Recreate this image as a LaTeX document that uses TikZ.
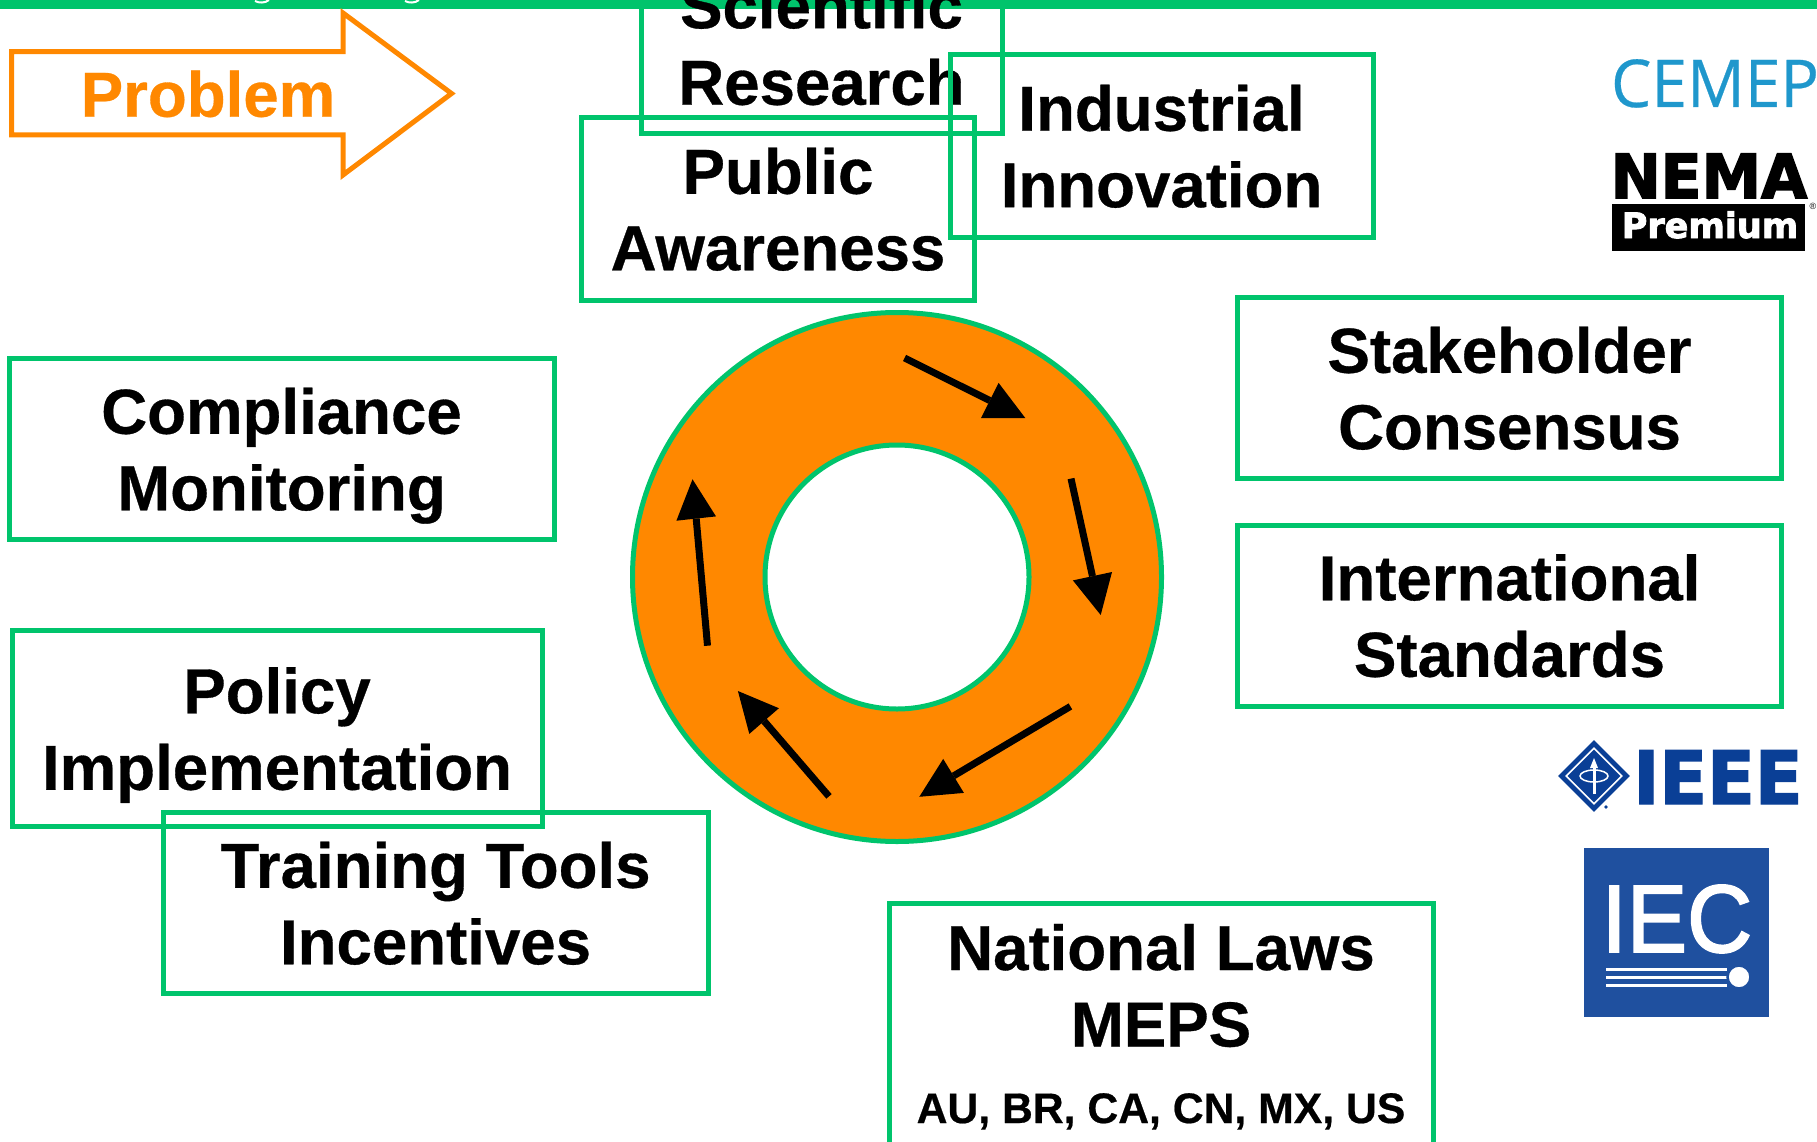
\documentclass[tikz,border=0pt]{standalone}
\usepackage{fontspec}
\usetikzlibrary{calc,shapes.geometric}
\setmainfont{Liberation Sans}[BoldFeatures={FakeBold=0.5}]
\newfontfamily\cemepfont[FakeBold=0.4]{Open Sans}
\newfontfamily\heavyfont[FakeBold=2.5]{DejaVu Sans Bold}
\newfontfamily\ieeefont[FakeBold=2]{DejaVu Sans Bold}
\newfontfamily\iecfont[FakeBold=2]{Liberation Sans}
\definecolor{boxgreen}{HTML}{00C46C}
\definecolor{probOrange}{HTML}{FF8800}
\definecolor{ieeeblue}{HTML}{0A3F96}
\definecolor{iecblue}{HTML}{1F509F}
\definecolor{cemepblue}{HTML}{1F97CC}
\newcommand{\firststrut}{\rule{0pt}{64pt}}
\newcommand{\laststrut}{\rule[-18pt]{0pt}{18pt}}
\newcommand{\cyclearrow}[5]{%
  \coordinate (#1s) at #2; \coordinate (#1t) at #3;
  \coordinate (#1a) at #4; \coordinate (#1b) at #5;
  \draw[shaft] (#1s) -- ($(#1a)!.5!(#1b)$);
  \fill[black] (#1t) -- (#1a) -- (#1b) -- cycle;}
\tikzset{
  stagebox/.style={draw=boxgreen,line width=5pt,align=center,inner sep=0pt,
    font=\fontsize{63.6}{76.5}\selectfont\bfseries,text=black},
  shaft/.style={draw=black,line width=7pt},
}
\begin{document}
\begin{tikzpicture}[x=1pt,y=-1pt]
\useasboundingbox (0,0) rectangle (1817,1142);
\clip (0,0) rectangle (1817,1142);
% top bar
\fill[boxgreen] (0,-2) rectangle (1817,8.8);
\draw[white,line width=2pt] (255,1) .. controls (259,3.2) and (265,3.2) .. (269,0);
\draw[white,line width=2pt] (405,1) .. controls (409,3.2) and (415,3.2) .. (419,0);
% problem arrow
\draw[probOrange,line width=5pt,miter limit=10,line join=miter]
  (11.5,51.7) -- (343,51.7) -- (343,13) -- (451.5,93.5) -- (343,175)
  -- (343,135) -- (11.5,135) -- cycle;
\node[text=probOrange,font=\fontsize{63.6}{70}\selectfont\bfseries,anchor=base] (problem) at (208,116.7) {Problem};
% boxes
\node[stagebox,minimum width=361pt,minimum height=181pt] (research) at (821.5,43.5)
  {\firststrut Scientific\\Research\laststrut};
\node[stagebox,minimum width=393pt,minimum height=182pt] (awareness) at (778,209)
  {\firststrut Public\\Awareness\laststrut};
\node[stagebox,minimum width=423pt,minimum height=182pt] (innovation) at (1161.5,146)
  {\firststrut Industrial\\Innovation\laststrut};
\node[stagebox,minimum width=544pt,minimum height=181pt] (consensus) at (1509.5,388)
  {\firststrut Stakeholder\\Consensus\laststrut};
\node[stagebox,minimum width=544pt,minimum height=181pt] (standards) at (1509.5,615.5)
  {\firststrut International\\Standards\laststrut};
\node[stagebox,minimum width=545pt,minimum height=181pt] (compliance) at (281.5,449)
  {\firststrut Compliance\\Monitoring\laststrut};
\node[stagebox,minimum width=530pt,minimum height=196.5pt] (policy) at (277,728.5)
  {\firststrut Policy\\Implementation\laststrut};
\node[stagebox,minimum width=545pt,minimum height=181pt] (training) at (435.5,903)
  {\firststrut Training Tools\\Incentives\laststrut};
\node[stagebox,minimum width=544pt,minimum height=241pt] (laws) at (1161,1023.5)
  {\firststrut National Laws\\MEPS\\{\fontsize{42.7}{76.5}\selectfont AU, BR, CA, CN, MX, US}\laststrut};
% ring
\node[circle,draw=boxgreen,fill=probOrange,line width=5pt,inner sep=0pt,minimum size=529pt] (ring) at (897,577) {};
\node[circle,draw=boxgreen,fill=white,line width=5pt,inner sep=0pt,minimum size=264pt] (hole) at (ring.center) {};
\cyclearrow{p}{(904.6,358)}{(1025.4,418.2)}{(998.6,382.9)}{(981,418.2)}
\cyclearrow{q}{(1071,478.6)}{(1100.7,615)}{(1072.9,580.4)}{(1112,572)}
\cyclearrow{r}{(1070.4,706.4)}{(919.3,796.8)}{(943.2,758.9)}{(963.9,792.9)}
\cyclearrow{u}{(829,796.4)}{(737.9,691)}{(778.9,708.2)}{(749.3,733.9)}
\cyclearrow{v}{(707.5,645.7)}{(692.5,479.3)}{(716,516.4)}{(676.4,520.7)}
% CEMEP
\node[text=cemepblue,font=\fontsize{66}{70}\cemepfont,anchor=base,xscale=.97] (cemep) at (1715,107) {CEMEP};
% NEMA
\node[font=\fontsize{61}{70}\heavyfont,anchor=base,inner sep=0pt,xscale=.98] (nema) at (1709,198) {NEMA};
\node[fill=black,minimum width=193pt,minimum height=46.7pt,inner sep=0pt] (premiumbar) at (1708.5,227.4) {};
\node[text=white,font=\fontsize{35}{40}\heavyfont,anchor=base,inner sep=0pt] (premium) at (1710,238) {Premium};
\node[font=\fontsize{9}{10}\selectfont,inner sep=0pt] (reg) at (1813,206.5) {®};
% IEEE
\node[diamond,fill=ieeeblue,minimum size=72pt,inner sep=0pt,aspect=1] (ieeemark) at (1594,776) {};
\node[diamond,draw=white,line width=1.6pt,minimum size=56pt,inner sep=0pt,aspect=1] (ieeering) at (ieeemark.center) {};
\draw[white,line width=1.5pt] (ieeemark.center) ellipse (14pt and 6pt);
\draw[white,line width=3pt] (1594,794) -- (1594,766);
\fill[white] (1594,758) -- (1598,768) -- (1590,768) -- cycle;
\fill[ieeeblue] (1606,807) circle (1.8pt);
\node[text=ieeeblue,font=\fontsize{73.5}{80}\ieeefont,anchor=base,inner sep=0pt,xscale=.95] (ieee) at (1718,804) {IEEE};
% IEC
\node[fill=iecblue,minimum width=185pt,minimum height=169pt,inner sep=0pt] (iecbox) at (1676.5,932.5) {};
\node[text=white,font=\fontsize{96}{100}\iecfont,anchor=base,inner sep=0pt,xscale=.94] (iec) at (1677,952) {IEC};
\foreach \yy in {969.3,977,985} \draw[white,line width=3pt] (1606,\yy) -- (1727,\yy);
\node[circle,fill=white,draw=iecblue,line width=2.5pt,minimum size=23pt,inner sep=0pt] (iecdot) at (1739,977) {};
\end{tikzpicture}
\end{document}
